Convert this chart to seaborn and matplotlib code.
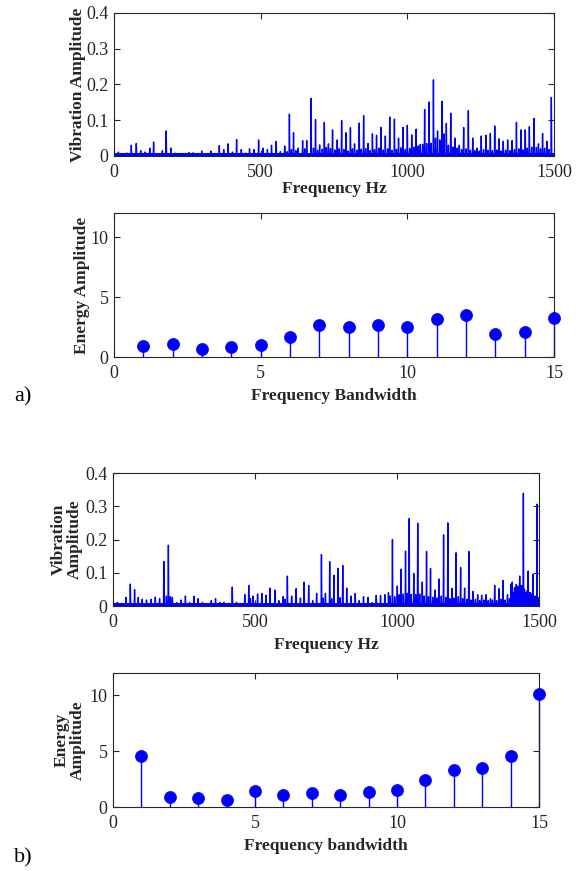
import numpy as np
import pandas as pd
import matplotlib
matplotlib.use("Agg")
import matplotlib.pyplot as plt
import seaborn as sns

# ---------------------------------------------------------------- data
# a) spectrum: main spikes (Hz, amplitude)
a_peak_hz = [15, 30, 45, 59, 76, 91, 105, 122, 135, 150, 165, 178, 194, 210, 225,
             240, 255, 270, 285, 299, 315, 330, 345, 359, 374, 389, 404, 418, 434,
             448, 462, 478, 493, 508, 523, 537, 553, 567, 582, 598, 612, 628, 643,
             657, 672, 687, 701, 717, 731, 745, 761, 776, 791, 806, 820, 836, 851,
             866, 881, 895, 910, 925, 940, 956, 970, 985, 1000, 1015, 1030, 1044,
             1059, 1074, 1089, 1103, 1118, 1133, 1148, 1162, 1177, 1192, 1208, 1223,
             1237, 1252, 1268, 1283, 1298, 1313, 1327, 1342, 1357, 1372, 1388, 1402,
             1416, 1432, 1447, 1461, 1476, 1491]
a_peak_amp = [0.011, 0.006, 0.008, 0.030, 0.035, 0.015, 0.011, 0.022, 0.039, 0.006,
              0.015, 0.070, 0.022, 0.008, 0.006, 0.007, 0.010, 0.009, 0.007, 0.014,
              0.006, 0.014, 0.007, 0.029, 0.018, 0.034, 0.011, 0.046, 0.018, 0.008,
              0.020, 0.018, 0.045, 0.022, 0.018, 0.030, 0.041, 0.012, 0.028, 0.117,
              0.065, 0.022, 0.043, 0.043, 0.161, 0.102, 0.031, 0.094, 0.034, 0.073,
              0.045, 0.099, 0.065, 0.079, 0.034, 0.092, 0.113, 0.035, 0.062, 0.058,
              0.080, 0.056, 0.109, 0.103, 0.050, 0.080, 0.086, 0.059, 0.075, 0.032,
              0.130, 0.151, 0.213, 0.070, 0.153, 0.091, 0.120, 0.050, 0.030, 0.080,
              0.127, 0.050, 0.022, 0.056, 0.058, 0.063, 0.084, 0.048, 0.041, 0.045,
              0.043, 0.094, 0.073, 0.073, 0.082, 0.105, 0.034, 0.063, 0.041, 0.164]
# a) spectrum: small side spikes
a_minor_hz = [590, 605, 620, 650, 680, 694, 710, 724, 738, 753, 768, 784, 798, 813,
              828, 843, 858, 873, 888, 903, 918, 933, 948, 963, 978, 993, 1008, 1022,
              1037, 1052, 1066, 1081, 1096, 1111, 1125, 1140, 1155, 1170, 1185, 1200,
              1215, 1230, 1245, 1260, 1275, 1290, 1305, 1320, 1335, 1350, 1365, 1380,
              1395, 1409, 1424, 1440, 1454, 1468, 1483]
a_minor_amp = [0.012, 0.018, 0.015, 0.020, 0.022, 0.016, 0.019, 0.024, 0.021, 0.017,
               0.020, 0.018, 0.014, 0.020, 0.016, 0.019, 0.021, 0.015, 0.018, 0.022,
               0.017, 0.020, 0.016, 0.019, 0.023, 0.018, 0.021, 0.025, 0.028, 0.033,
               0.035, 0.036, 0.050, 0.045, 0.062, 0.030, 0.025, 0.022, 0.018, 0.020,
               0.016, 0.015, 0.014, 0.018, 0.016, 0.015, 0.017, 0.014, 0.016, 0.015,
               0.018, 0.020, 0.017, 0.022, 0.025, 0.024, 0.020, 0.022, 0.018]

# b) spectrum: main spikes (Hz, amplitude)
b_peak_hz = [15, 30, 46, 61, 76, 89, 103, 118, 134, 149, 164, 179, 195, 209, 225,
             240, 255, 270, 285, 300, 315, 331, 346, 361, 376, 391, 405, 420, 435,
             450, 464, 478, 493, 509, 524, 539, 553, 570, 584, 599, 614, 629, 645,
             660, 673, 689, 703, 717, 734, 748, 763, 778, 792, 809, 823, 838, 853,
             867, 882, 898, 912, 927, 942, 957, 970, 984, 1001, 1014, 1030, 1043,
             1059, 1073, 1089, 1104, 1118, 1134, 1148, 1164, 1179, 1194, 1208, 1224,
             1238, 1253, 1268, 1284, 1298, 1314, 1329, 1344, 1359, 1373, 1389, 1402,
             1406, 1414, 1420, 1426, 1432, 1438, 1445, 1452, 1462, 1470, 1479, 1486,
             1493]
b_peak_amp = [0.011, 0.008, 0.026, 0.066, 0.049, 0.026, 0.020, 0.018, 0.020, 0.027,
              0.022, 0.134, 0.183, 0.026, 0.010, 0.018, 0.030, 0.010, 0.029, 0.022,
              0.011, 0.006, 0.016, 0.022, 0.011, 0.011, 0.008, 0.057, 0.011, 0.008,
              0.034, 0.062, 0.030, 0.036, 0.038, 0.032, 0.054, 0.048, 0.016, 0.028,
              0.090, 0.030, 0.052, 0.024, 0.072, 0.062, 0.016, 0.038, 0.155, 0.038,
              0.133, 0.092, 0.113, 0.122, 0.054, 0.030, 0.038, 0.016, 0.028, 0.026,
              0.010, 0.032, 0.032, 0.034, 0.040, 0.200, 0.060, 0.111, 0.165, 0.263,
              0.098, 0.249, 0.072, 0.164, 0.113, 0.048, 0.081, 0.214, 0.250, 0.053,
              0.160, 0.116, 0.054, 0.164, 0.044, 0.034, 0.032, 0.034, 0.022, 0.062,
              0.052, 0.077, 0.034, 0.066, 0.072, 0.055, 0.065, 0.060, 0.090, 0.062,
              0.339, 0.040, 0.105, 0.040, 0.095, 0.030, 0.306]
# b) spectrum: small side spikes
b_minor_hz = [188, 202, 484, 606, 740, 770, 800, 976, 992, 1008, 1022, 1036, 1050,
              1066, 1080, 1096, 1111, 1126, 1141, 1156, 1172, 1186, 1200, 1216, 1231,
              1246, 1260, 1276, 1291, 1306, 1321, 1336, 1351, 1366, 1381, 1396, 1410,
              1417, 1423, 1429, 1435, 1441, 1449, 1457, 1466, 1474, 1482, 1490, 1497]
b_minor_amp = [0.030, 0.028, 0.022, 0.020, 0.024, 0.022, 0.025, 0.030, 0.028, 0.034,
               0.036, 0.038, 0.035, 0.034, 0.036, 0.030, 0.028, 0.026, 0.024, 0.030,
               0.026, 0.022, 0.024, 0.028, 0.022, 0.020, 0.018, 0.020, 0.016, 0.018,
               0.016, 0.018, 0.016, 0.020, 0.018, 0.022, 0.040, 0.045, 0.050, 0.048,
               0.055, 0.060, 0.050, 0.045, 0.040, 0.035, 0.030, 0.028, 0.025]

noise_floor = 0.008

# band energies
bands = list(range(1, 16))
a_energy = [0.89, 1.08, 0.69, 0.86, 1.03, 1.69, 2.64, 2.47, 2.67, 2.47,
            3.19, 3.53, 1.94, 2.11, 3.22]
b_energy = [4.59, 0.92, 0.77, 0.59, 1.45, 1.07, 1.27, 1.09, 1.36, 1.54,
            2.40, 3.28, 3.52, 4.53, 10.12]

# ---------------------------------------------------------------- style
sns.set_style("ticks")
plt.rcParams["font.family"] = ["Liberation Serif", "DejaVu Serif"]

BLUE = "#0000ff"
INK = "#262626"
TICK_FS = 13
LABEL_FS = 12.5


def spectrum_frame(peak_hz, peak_amp, minor_hz, minor_amp, half_width=1.2):
    """Turn spike lists into a spike-train polyline sitting on the noise floor."""
    hz = list(peak_hz) + list(minor_hz)
    amp = list(peak_amp) + list(minor_amp)
    order = np.argsort(hz)
    xs, ys = [0.0], [noise_floor / 2]
    for i in order:
        f, a = hz[i], amp[i]
        xs += [f - half_width, f, f + half_width]
        ys += [noise_floor / 2, a, noise_floor / 2]
    xs.append(1500.0)
    ys.append(noise_floor / 2)
    return pd.DataFrame({"Frequency": xs, "Amplitude": ys})


def style_axes(ax):
    for s in ax.spines.values():
        s.set_color(INK)
        s.set_linewidth(0.8)
    ax.tick_params(direction="in", length=4, width=0.8, colors=INK,
                   labelsize=TICK_FS, top=True, right=True)
    ax.tick_params(axis="x", pad=6)
    ax.tick_params(axis="y", pad=4)
    for t in ax.get_xticklabels() + ax.get_yticklabels():
        t.set_color(INK)


def draw_spectrum(ax, df, ylabel):
    sns.lineplot(data=df, x="Frequency", y="Amplitude", ax=ax, color=BLUE,
                 lw=1.0, sort=False, estimator=None)
    ax.fill_between([0, 1500], 0, noise_floor, color=BLUE, lw=0)
    ax.set_xlim(0, 1500)
    ax.set_ylim(0, 0.4)
    ax.set_xticks([0, 500, 1000, 1500])
    ax.set_yticks([0, 0.1, 0.2, 0.3, 0.4])
    ax.set_yticklabels(["0", "0.1", "0.2", "0.3", "0.4"])
    ax.set_xlabel("Frequency Hz", fontsize=LABEL_FS, fontweight="bold", color=INK)
    ax.set_ylabel(ylabel, fontsize=LABEL_FS, fontweight="bold", color=INK,
                  linespacing=1.05)
    style_axes(ax)


def draw_stems(ax, energy, xlabel, ylabel):
    ax.vlines(bands, 0, energy, color=BLUE, lw=1.0, clip_on=False)
    sns.scatterplot(x=bands, y=energy, ax=ax, color=BLUE, s=75,
                    edgecolor=BLUE, linewidth=0.5, clip_on=False, zorder=3)
    ax.set_xlim(0, 15)
    ax.set_ylim(0, 12)
    ax.set_xticks([0, 5, 10, 15])
    ax.set_yticks([0, 5, 10])
    ax.set_xlabel(xlabel, fontsize=LABEL_FS, fontweight="bold", color=INK)
    ax.set_ylabel(ylabel, fontsize=LABEL_FS, fontweight="bold", color=INK,
                  linespacing=1.05)
    style_axes(ax)


W, H = 579, 871
fig = plt.figure(figsize=(W / 100, H / 100), dpi=100)


def add_axes(left, top, right, bottom):
    return fig.add_axes([left / W, 1 - bottom / H, (right - left) / W, (bottom - top) / H])


ax1 = add_axes(114, 13, 554, 156)
ax2 = add_axes(114, 213, 554, 357)
ax3 = add_axes(113, 473, 539, 606)
ax4 = add_axes(113, 673, 539, 807)

draw_spectrum(ax1, spectrum_frame(a_peak_hz, a_peak_amp, a_minor_hz, a_minor_amp),
              "Vibration Amplitude")
draw_stems(ax2, a_energy, "Frequency Bandwidth", "Energy Amplitude")
draw_spectrum(ax3, spectrum_frame(b_peak_hz, b_peak_amp, b_minor_hz, b_minor_amp),
              "Vibration\nAmplitude")
draw_stems(ax4, b_energy, "Frequency bandwidth", "Energy\nAmplitude")

ax1.yaxis.set_label_coords(-0.063, 0.5)
ax2.yaxis.set_label_coords(-0.055, 0.5)
ax3.yaxis.set_label_coords(-0.070, 0.5)
ax4.yaxis.set_label_coords(-0.063, 0.5)
ax1.xaxis.set_label_coords(0.5, -0.175)
ax2.xaxis.set_label_coords(0.5, -0.215)
ax3.xaxis.set_label_coords(0.5, -0.233)
ax4.xaxis.set_label_coords(0.5, -0.231)

fig.text(14 / W, 1 - 397 / H, "a)", fontsize=16, color="black", va="center", ha="left")
fig.text(14 / W, 1 - 858 / H, "b)", fontsize=16, color="black", va="center", ha="left")

fig.savefig("out.png", dpi=100)
